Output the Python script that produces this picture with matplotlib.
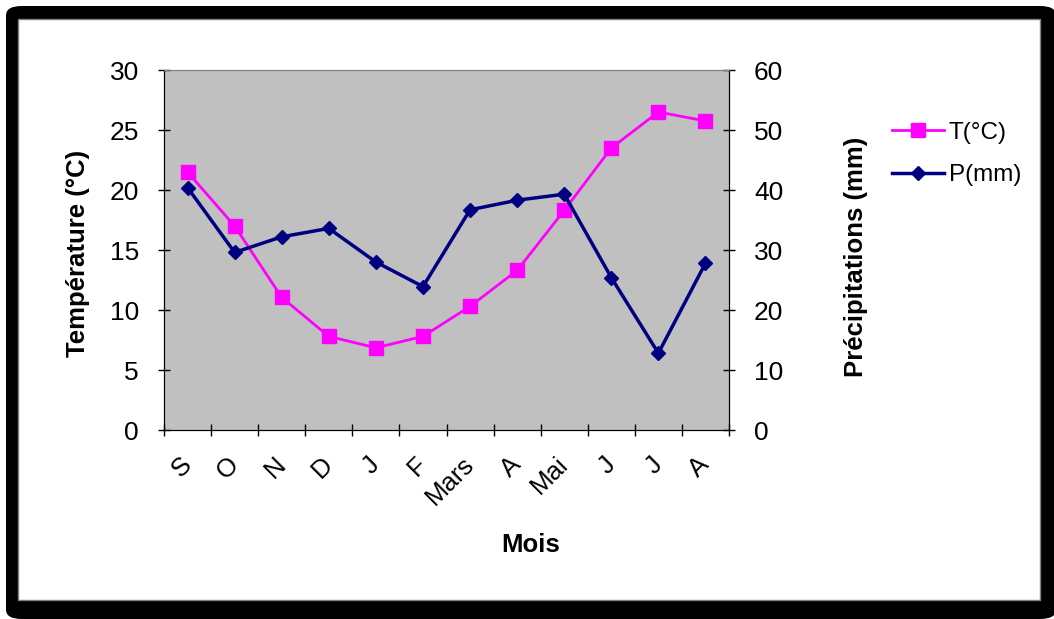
import matplotlib.pyplot as plt
from matplotlib.patches import FancyBboxPatch, Rectangle
from matplotlib.lines import Line2D

plt.rcParams['font.family'] = ['Liberation Sans', 'DejaVu Sans']

mois = ["S", "O", "N", "D", "J", "F", "Mars", "A", "Mai", "J", "J", "A"]
temperature = [21.5, 17.0, 11.05, 7.8, 6.85, 7.8, 10.3, 13.3, 18.3, 23.5, 26.5, 25.75]
precipitations = [40.4, 29.6, 32.2, 33.6, 28.0, 23.9, 36.7, 38.3, 39.3, 25.4, 12.8, 27.8]

W, H = 1054, 619
fig = plt.figure(figsize=(W / 100, H / 100), dpi=100)
fig.patch.set_facecolor("white")

# cadre noir arrondi + fond blanc (derrière les axes)
fig.patches.append(FancyBboxPatch((6 / W, 0), (W - 4) / W, (H - 6) / H, boxstyle="round,pad=0,rounding_size=0.015",
                                  transform=fig.transFigure, facecolor="black", edgecolor="none", zorder=-3))
fig.patches.append(Rectangle((18 / W, (H - 600) / H), (1040 - 18) / W, (600 - 19) / H,
                             transform=fig.transFigure, facecolor="white", edgecolor="#808080", lw=1, zorder=-2))

ax = fig.add_axes([164 / W, (H - 430) / H, (729 - 164) / W, (430 - 70) / H])
ax.set_facecolor("#C0C0C0")
ax2 = ax.twinx()

x = list(range(len(mois)))
ax.plot(x, temperature, color="#FF00FF", lw=2, marker="s", markersize=9.5, zorder=3)
ax2.plot(x, precipitations, color="#000080", lw=2.5, marker="D", markersize=7.5, zorder=3)

ax.set_xlim(-0.5, len(mois) - 0.5)
ax.set_ylim(0, 30)
ax2.set_ylim(0, 60)
ax.set_yticks(range(0, 31, 5))
ax2.set_yticks(range(0, 61, 10))

# ticks entre les catégories
ax.set_xticks([i - 0.5 for i in range(len(mois) + 1)])
ax.set_xticklabels([])
ax.set_xticks(x, minor=True)
ax.set_xticklabels(mois, minor=True, rotation=45, ha="right", va="center", rotation_mode="anchor", fontsize=18.5)
ax.tick_params(axis="x", which="minor", length=0, pad=22)
ax.tick_params(axis="x", which="major", direction="inout", length=9, width=1)
ax.tick_params(axis="y", direction="inout", length=8, width=1, labelsize=19, pad=14)
ax2.tick_params(axis="y", direction="inout", length=8, width=1, labelsize=19, pad=14)

for a in (ax, ax2):
    a.spines["top"].set_color("#808080")
    for s in ("left", "right", "bottom"):
        a.spines[s].set_color("black")

ax.set_xlabel("Mois", fontsize=18.5, fontweight="bold")
ax.xaxis.set_label_coords((531 - 164) / 565, (430 - 545) / 360)
ax.xaxis.label.set_va("center")
ax.set_ylabel("Température (°C)", fontsize=18.5, fontweight="bold")
ax.yaxis.set_label_coords((78 - 164) / 565, (430 - 253) / 360)
ax.yaxis.label.set_va("center")
ax2.set_ylabel("Précipitations (mm)", fontsize=18.5, fontweight="bold")
ax2.yaxis.set_label_coords((856 - 164) / 565, (430 - 257) / 360)
ax2.yaxis.label.set_va("center")

handles = [
    Line2D([], [], color="#FF00FF", lw=2, marker="s", markersize=9.5),
    Line2D([], [], color="#000080", lw=2.5, marker="D", markersize=7.5),
]
fig.legend(handles, ["T(°C)", "P(mm)"], loc="center left", bbox_to_anchor=(870 / W, (H - 154) / H),
           frameon=False, fontsize=17.5, handlelength=2.15, handletextpad=0.2, labelspacing=0.85)

fig.savefig("out.png", dpi=100, facecolor=fig.get_facecolor())
